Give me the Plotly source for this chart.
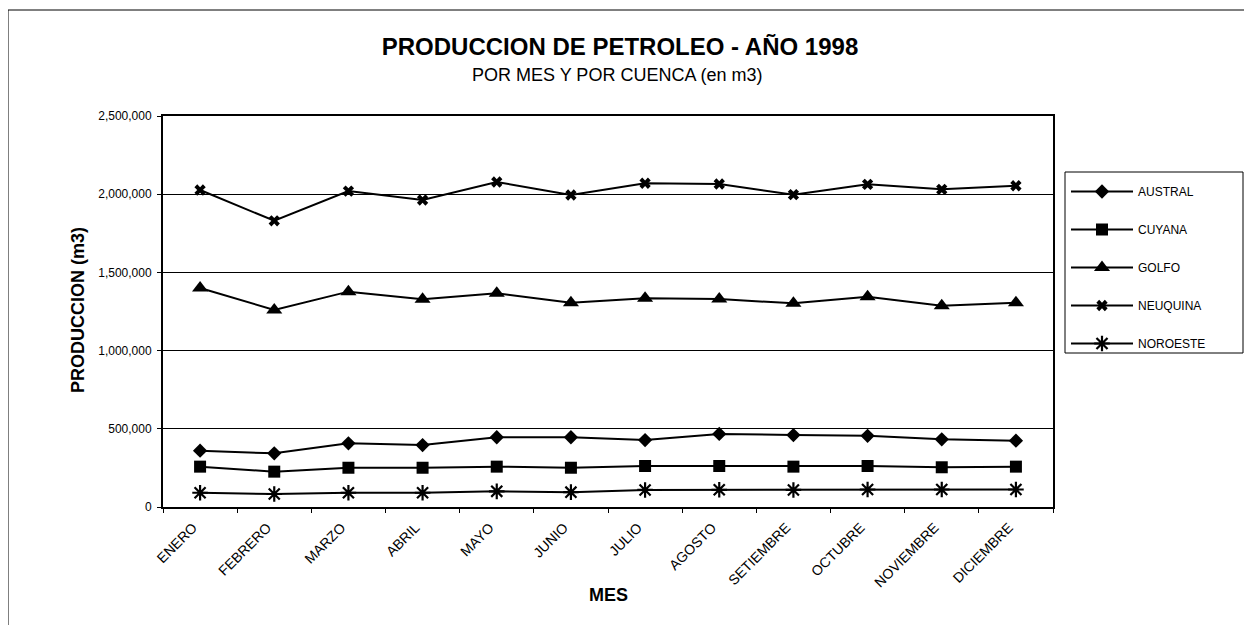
import plotly.graph_objects as go

meses = ["ENERO", "FEBRERO", "MARZO", "ABRIL", "MAYO", "JUNIO", "JULIO",
         "AGOSTO", "SETIEMBRE", "OCTUBRE", "NOVIEMBRE", "DICIEMBRE"]

austral = [360000, 343000, 407000, 396000, 446000, 446000, 428000, 467000, 460000, 455000, 433000, 424000]
cuyana = [258000, 226000, 251000, 251000, 258000, 251000, 262000, 262000, 258000, 262000, 254000, 258000]
golfo = [1400000, 1260000, 1377000, 1328000, 1366000, 1306000, 1334000, 1330000, 1302000, 1345000, 1287000, 1306000]
neuquina = [2027000, 1830000, 2020000, 1963000, 2078000, 1995000, 2070000, 2065000, 1997000, 2063000, 2031000, 2054000]
noroeste = [91000, 83000, 91000, 91000, 100000, 95000, 109000, 110000, 109000, 112000, 112000, 112000]

y_ticks = [0, 500000, 1000000, 1500000, 2000000, 2500000]

series = [
    ("AUSTRAL", austral, dict(symbol="diamond", size=11)),
    ("CUYANA", cuyana, dict(symbol="square", size=12)),
    ("GOLFO", golfo, dict(symbol="triangle-up", size=14)),
    ("NEUQUINA", neuquina, dict(symbol="x", size=10)),
    ("NOROESTE", noroeste, dict(symbol="asterisk-open", size=13, line=dict(width=2.2, color="black"))),
]

FONT = "Arial, Liberation Sans, sans-serif"

fig = go.Figure()
for name, vals, mk in series:
    fig.add_trace(go.Scatter(
        x=meses, y=vals, name=name, mode="lines+markers",
        line=dict(color="black", width=2), marker=dict(color="black", **mk),
        legendgroup=name,
    ))

# page body has an 8px default margin: work in page pixels, convert to figure pixels
OFF = 8
W, H = 1252 - OFF, 625 - OFF
PL, PR, PT, PB = 163, 1053, 116, 507  # plot area in page pixels
L, T = PL - OFF, PT - OFF
R, B = W - (PR - OFF), H - (PB - OFF)
PW, PH = PR - PL, PB - PT


def px_x(px):
    return (px - PL) / PW


def px_y(py):
    return (PB - py) / PH


fig.update_layout(
    width=W, height=H,
    margin=dict(l=L, r=R, t=T, b=B),
    paper_bgcolor="white", plot_bgcolor="white",
    font=dict(family=FONT, color="black"),
    showlegend=True,
    legend=dict(
        x=px_x(1066), y=px_y(177), xanchor="left", yanchor="top",
        borderwidth=0, bgcolor="rgba(0,0,0,0)",
        font=dict(size=12, family=FONT), itemwidth=62,
        tracegroupgap=19, traceorder="grouped",
    ),
    title=dict(text="<b>PRODUCCION DE PETROLEO - AÑO 1998</b>",
               x=(620 - OFF) / W, xanchor="center", y=1 - (47 - OFF) / H, yanchor="middle",
               font=dict(size=24, family=FONT)),
    xaxis=dict(
        type="category", range=[-0.5, 11.5], tickangle=-45,
        tickfont=dict(size=14, family=FONT), ticks="outside", ticklen=4,
        tickson="boundaries", tickcolor="black",
        ticklabelshift=-7, ticklabelstandoff=5,
        showline=True, linecolor="black", linewidth=2, mirror=True,
        showgrid=False, zeroline=False,
    ),
    yaxis=dict(
        range=[0, 2500000], tickvals=y_ticks, tickformat=",d",
        tickfont=dict(size=12, family=FONT), ticks="outside", ticklen=4, tickcolor="black",
        ticklabelstandoff=3,
        showline=True, linecolor="black", linewidth=2, mirror=True,
        showgrid=True, gridcolor="black", gridwidth=1, zeroline=False,
    ),
    annotations=[
        dict(text="POR MES Y POR CUENCA (en m3)", xref="paper", yref="paper",
             x=px_x(617), y=px_y(75), showarrow=False, font=dict(size=18, family=FONT),
             xanchor="center", yanchor="middle"),
        dict(text="<b>MES</b>", xref="paper", yref="paper",
             x=px_x(608), y=px_y(595), showarrow=False, font=dict(size=18, family=FONT),
             xanchor="center", yanchor="middle"),
        dict(text="<b>PRODUCCION (m3)</b>", xref="paper", yref="paper",
             x=px_x(78), y=px_y(310), showarrow=False, font=dict(size=18, family=FONT),
             textangle=-90, xanchor="center", yanchor="middle"),
    ],
    shapes=[
        dict(type="rect", xref="paper", yref="paper",
             x0=px_x(8), x1=px_x(1249), y0=px_y(640), y1=px_y(10),
             line=dict(color="black", width=1), fillcolor="rgba(0,0,0,0)", layer="below"),
        dict(type="rect", xref="paper", yref="paper",
             x0=px_x(1065), x1=px_x(1243), y0=px_y(353), y1=px_y(172),
             line=dict(color="black", width=1), fillcolor="rgba(0,0,0,0)"),
    ],
)

fig.write_html("out.html")
